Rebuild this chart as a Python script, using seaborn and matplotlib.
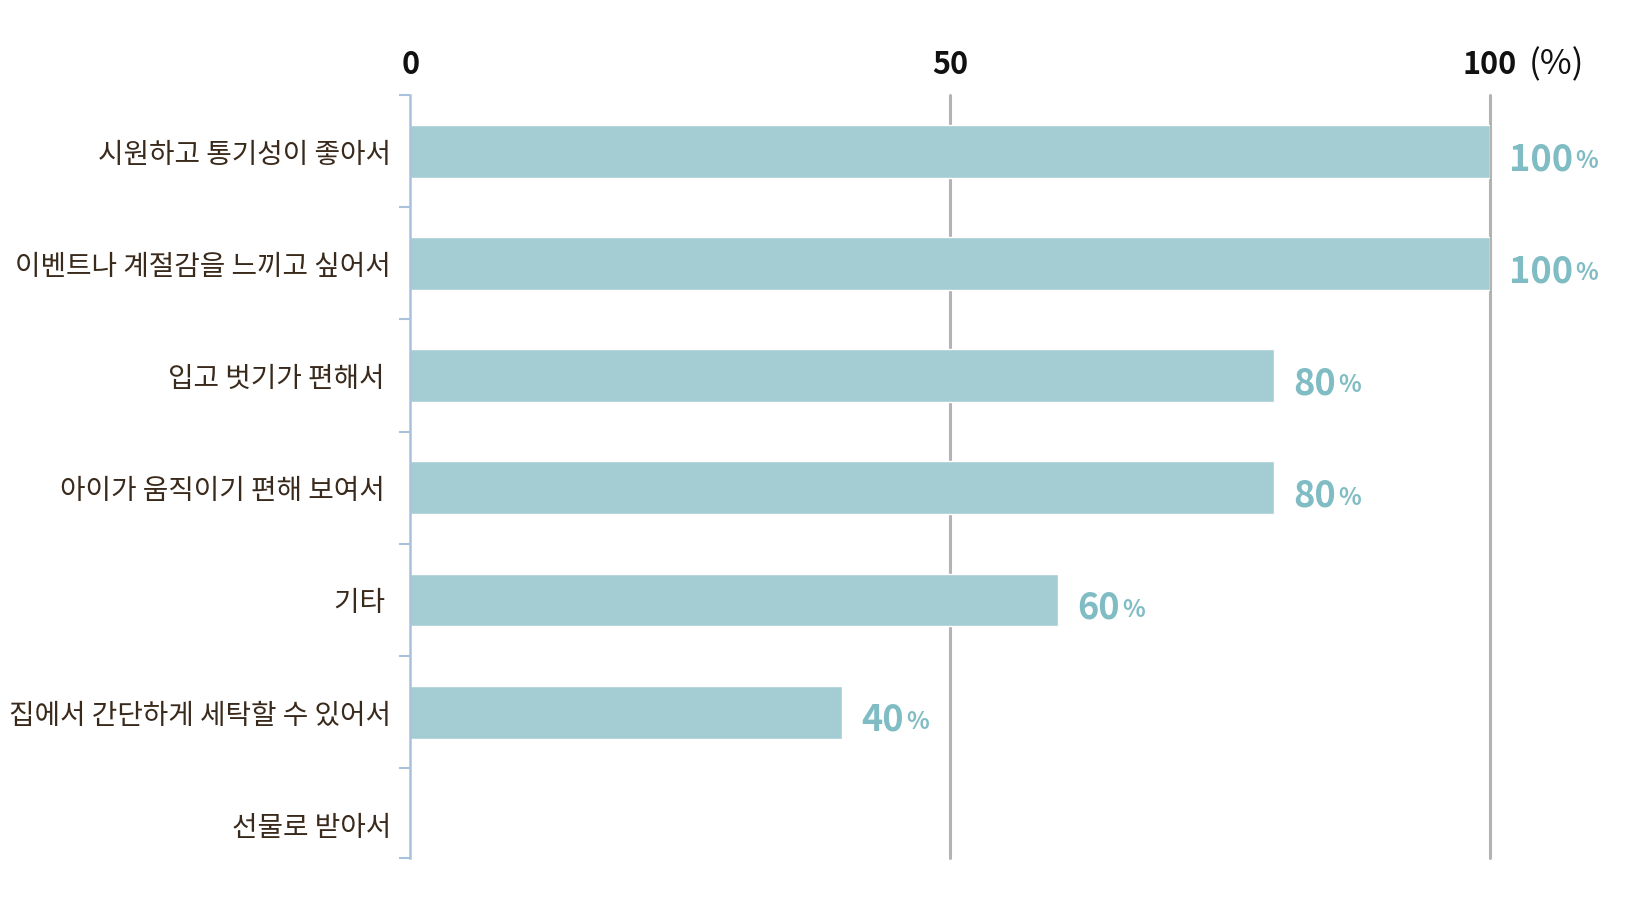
import matplotlib
matplotlib.use("Agg")
import matplotlib.pyplot as plt
import seaborn as sns
import numpy as np
import pandas as pd

categories = ["시원하고 통기성이 좋아서", "이벤트나 계절감을 느끼고 싶어서", "입고 벗기가 편해서 ",
              "아이가 움직이기 편해 보여서 ", "기타 ", "집에서 간단하게 세탁할 수 있어서", "선물로 받아서"]
values = [100, 100, 80, 80, 60, 40, 0]
xticks = [0, 50, 100]
xtick_labels = ["0", "50", "100"]

sns.set_theme(style="white")
plt.rcParams['font.family'] = ['Noto Sans CJK KR', 'DejaVu Sans']

BAR = "#a3cdd3"
VAL = "#80bcc4"
LAB = "#3a2a1c"
SPINE = "#a9c1dc"
GRID = "#b3b3b3"

fig = plt.figure(figsize=(16.41, 9.06), dpi=100)
ax = fig.add_axes([0.25, 0.053, 0.658, 0.842])

df = pd.DataFrame({"cat": categories, "val": values})
sns.barplot(data=df, x="val", y="cat", color=BAR, width=0.47, ax=ax, saturation=1, zorder=2)

ax.set_xlim(0, 100)
bottom = len(categories) - 0.7
ax.set_ylim(bottom, -0.5)
ax.set_xlabel("")
ax.set_ylabel("")

for xv in [50, 100]:
    ax.axvline(xv, color=GRID, lw=2.2, zorder=1, clip_on=False)

ax.xaxis.tick_top()
ax.set_xticks(xticks)
ax.set_xticklabels(xtick_labels, fontsize=22, fontweight="bold", color="#111111")
ax.tick_params(axis="x", length=0, pad=10)
ax.text(103.6, 1.0, "(%)", transform=ax.get_xaxis_transform(), fontsize=25,
        color="#111111", va="baseline", ha="left")
fig.canvas.draw()
lab100 = ax.get_xticklabels()[-1]
bb100 = lab100.get_window_extent()
ax.texts[-1].set_transform(None)
ax.texts[-1].set_position((ax.transData.transform((103.6, 0))[0], bb100.y0 - 1))
ax.texts[-1].set_va("bottom")

ax.set_yticks(range(len(categories)))
ax.set_yticklabels(categories, fontsize=20, color=LAB, fontweight="medium")
ax.tick_params(axis="y", which="major", length=0, pad=14)
minor = list(np.arange(-0.5, len(categories) - 1, 1)) + [bottom]
ax.set_yticks(minor, minor=True)
ax.tick_params(axis="y", which="minor", length=8, width=1.5, color=SPINE, left=True)

for s in ["top", "right", "bottom"]:
    ax.spines[s].set_visible(False)
ax.spines["left"].set_color(SPINE)
ax.spines["left"].set_linewidth(1.8)

for i, v in enumerate(values):
    if v > 0:
        t = ax.annotate(f"{v}", xy=(v, i), xytext=(14, -6), textcoords="offset points",
                        fontsize=26, color=VAL, va="center", ha="left", fontweight="bold")
        fig.canvas.draw()
        bb = t.get_window_extent()
        ax.annotate("%", xy=(bb.x1 + 2, bb.y0 + 5), xycoords="figure pixels",
                    fontsize=17, color=VAL, va="bottom", ha="left", fontweight="bold")

fig.patch.set_facecolor("white")
fig.savefig("out.png", dpi=100, facecolor="white")
